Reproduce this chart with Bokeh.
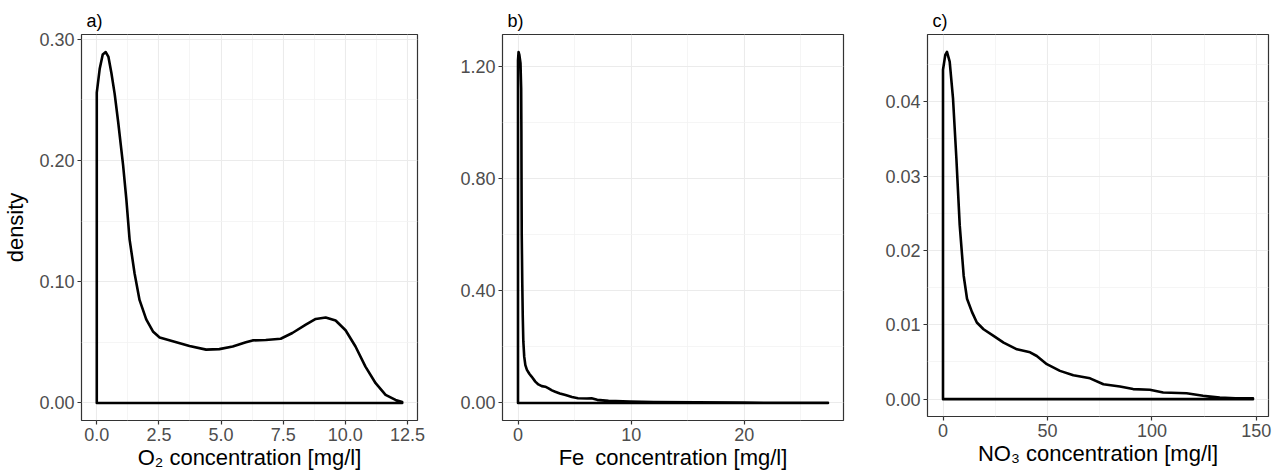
from bokeh.plotting import figure
from bokeh.layouts import row
from bokeh.models import FixedTicker, Range1d
from bokeh.embed import file_html
from bokeh.resources import INLINE

# ---------------- data ----------------
o2_x = [0.0, 0.12, 0.24, 0.36, 0.47, 0.59, 0.72, 0.86, 1.06, 1.19, 1.32, 1.52, 1.72,
        1.99, 2.26, 2.53, 3.06, 3.73, 4.4, 4.93, 5.47, 6.0, 6.27, 6.8, 7.4, 7.87,
        8.41, 8.81, 9.21, 9.61, 10.01, 10.41, 10.81, 11.22, 11.62, 12.02, 12.29]
o2_density = [0.256, 0.276, 0.2875, 0.2895, 0.2855, 0.272, 0.255, 0.232, 0.196, 0.168,
              0.135, 0.107, 0.085, 0.069, 0.059, 0.054, 0.051, 0.047, 0.044, 0.0444,
              0.0466, 0.050, 0.0516, 0.052, 0.053, 0.0577, 0.0646, 0.0693, 0.0705,
              0.068, 0.060, 0.0466, 0.030, 0.0163, 0.0066, 0.0025, 0.0008]

fe_x = [0.0, 0.05, 0.12, 0.22, 0.28, 0.3, 0.31, 0.32, 0.33, 0.35, 0.38, 0.42, 0.47,
        0.55, 0.65, 0.79, 1.0, 1.2, 1.53, 1.8, 2.1, 2.41, 2.7, 3.0, 3.29, 3.7, 4.2,
        4.77, 5.3, 6.1, 6.5, 7.0, 8.0, 9.9, 12.0, 15.8, 20.0, 24.0, 27.4]
fe_density = [1.22, 1.25, 1.24, 1.21, 1.12, 0.97, 0.82, 0.7, 0.6, 0.53, 0.42, 0.31, 0.22,
              0.165, 0.135, 0.118, 0.104, 0.094, 0.076, 0.066, 0.06, 0.058, 0.052,
              0.045, 0.040, 0.034, 0.028, 0.021, 0.017, 0.016, 0.017, 0.011, 0.008,
              0.005, 0.003, 0.002, 0.001, 0.0005, 0.0002]

no3_x = [0.0, 1.1, 1.9, 3.2, 4.8, 6.4, 8.0, 9.9, 11.5, 13.9, 16.2, 19.4, 24.2, 29.0,
         35.4, 41.7, 44.9, 49.7, 56.0, 62.4, 70.4, 76.8, 84.7, 91.0, 99.0, 105.4,
         116.6, 124.5, 132.5, 140.0, 148.4]
no3_density = [0.0443, 0.0463, 0.0467, 0.0454, 0.0404, 0.0324, 0.0234, 0.0166, 0.0135,
               0.0117, 0.0103, 0.0094, 0.0085, 0.0076, 0.0067, 0.0063, 0.0058, 0.0047,
               0.0038, 0.0032, 0.0028, 0.0020, 0.0017, 0.00135, 0.00126, 0.0009,
               0.0008, 0.00045, 0.0002, 0.00012, 0.0001]

# tick values / labels
a_xticks = [0.0, 2.5, 5.0, 7.5, 10.0, 12.5]
a_xlabels = ["0.0", "2.5", "5.0", "7.5", "10.0", "12.5"]
a_xminor = [1.25, 3.75, 6.25, 8.75, 11.25]
a_yticks = [0.0, 0.1, 0.2, 0.3]
a_ylabels = ["0.00", "0.10", "0.20", "0.30"]
a_yminor = [0.05, 0.15, 0.25]

b_xticks = [0, 10, 20]
b_xlabels = ["0", "10", "20"]
b_xminor = [5, 15, 25]
b_yticks = [0.0, 0.4, 0.8, 1.2]
b_ylabels = ["0.00", "0.40", "0.80", "1.20"]
b_yminor = [0.2, 0.6, 1.0]

c_xticks = [0, 50, 100, 150]
c_xlabels = ["0", "50", "100", "150"]
c_xminor = [25, 75, 125]
c_yticks = [0.0, 0.01, 0.02, 0.03, 0.04]
c_ylabels = ["0.00", "0.01", "0.02", "0.03", "0.04"]
c_yminor = [0.005, 0.015, 0.025, 0.035, 0.045]

FONT = "Liberation Sans"


def pad_range(lo, hi, frac=0.05):
    d = (hi - lo) * frac
    return Range1d(lo - d, hi + d)


def panel(title, xs, ys, xticks, xlabels, xminor, yticks, ylabels, yminor,
          xlabel, ylabel, frame_w, frame_h, bl, br):
    p = figure(output_backend="svg", toolbar_location=None,
               frame_width=frame_w, frame_height=frame_h,
               x_range=pad_range(min(xs), max(xs)),
               y_range=pad_range(0, max(ys)),
               min_border_left=bl, min_border_right=br,
               min_border_top=34, min_border_bottom=5,
               title=title)
    p.background_fill_color = "white"
    p.border_fill_color = "white"
    p.outline_line_color = "#333333"
    p.outline_line_width = 1.2
    p.outline_line_alpha = 1

    p.title.text_font = FONT
    p.title.text_font_size = "18px"
    p.title.text_font_style = "normal"
    p.title.text_color = "black"
    p.title.align = "left"
    p.title.offset = 5
    p.title.standoff = 8

    p.xaxis.ticker = FixedTicker(ticks=xticks, minor_ticks=xminor)
    p.yaxis.ticker = FixedTicker(ticks=yticks, minor_ticks=yminor)
    p.xaxis.major_label_overrides = {t: l for t, l in zip(xticks, xlabels)}
    p.yaxis.major_label_overrides = {t: l for t, l in zip(yticks, ylabels)}

    for ax in (p.xaxis[0], p.yaxis[0]):
        ax.axis_line_color = None
        ax.major_tick_line_color = "#333333"
        ax.major_tick_line_width = 1.2
        ax.major_tick_out = 4
        ax.major_tick_in = 0
        ax.minor_tick_line_color = None
        ax.major_label_text_font = FONT
        ax.major_label_text_font_size = "18px"
        ax.major_label_text_color = "#4D4D4D"
        ax.major_label_standoff = 3
        ax.axis_label_text_font = FONT
        ax.axis_label_text_font_size = "22px"
        ax.axis_label_text_font_style = "normal"
        ax.axis_label_text_color = "black"
    p.xaxis.axis_label = xlabel
    p.xaxis.axis_label_standoff = 1
    if ylabel:
        p.yaxis.axis_label = ylabel
        p.yaxis.axis_label_standoff = 8

    p.grid.grid_line_color = "#EBEBEB"
    p.grid.grid_line_width = 1.1
    p.grid.minor_grid_line_color = "#F3F3F3"
    p.grid.minor_grid_line_width = 0.8

    # density polygon outline (ggplot geom_density style: closed to the baseline)
    px = [xs[0]] + list(xs) + [xs[-1]]
    py = [0.0] + list(ys) + [0.0]
    p.patch(px, py, fill_color=None, line_color="black", line_width=2.6,
            line_join="round")
    return p


pa = panel("a)", o2_x, o2_density, a_xticks, a_xlabels, a_xminor,
           a_yticks, a_ylabels, a_yminor,
           "O\u2082 concentration [mg/l]", "density", 336, 386, 74, 12)
pb = panel("b)", fe_x, fe_density, b_xticks, b_xlabels, b_xminor,
           b_yticks, b_ylabels, b_yminor,
           "Fe\u2002concentration [mg/l]", None, 341, 386, 73, 11)
pc = panel("c)", no3_x, no3_density, c_xticks, c_xlabels, c_xminor,
           c_yticks, c_ylabels, c_yminor,
           "NO\u2083 concentration [mg/l]", None, 341, 382, 73, 7)

layout = row(pa, pb, pc, spacing=0)

open("out.html", "w").write(file_html(layout, INLINE))
